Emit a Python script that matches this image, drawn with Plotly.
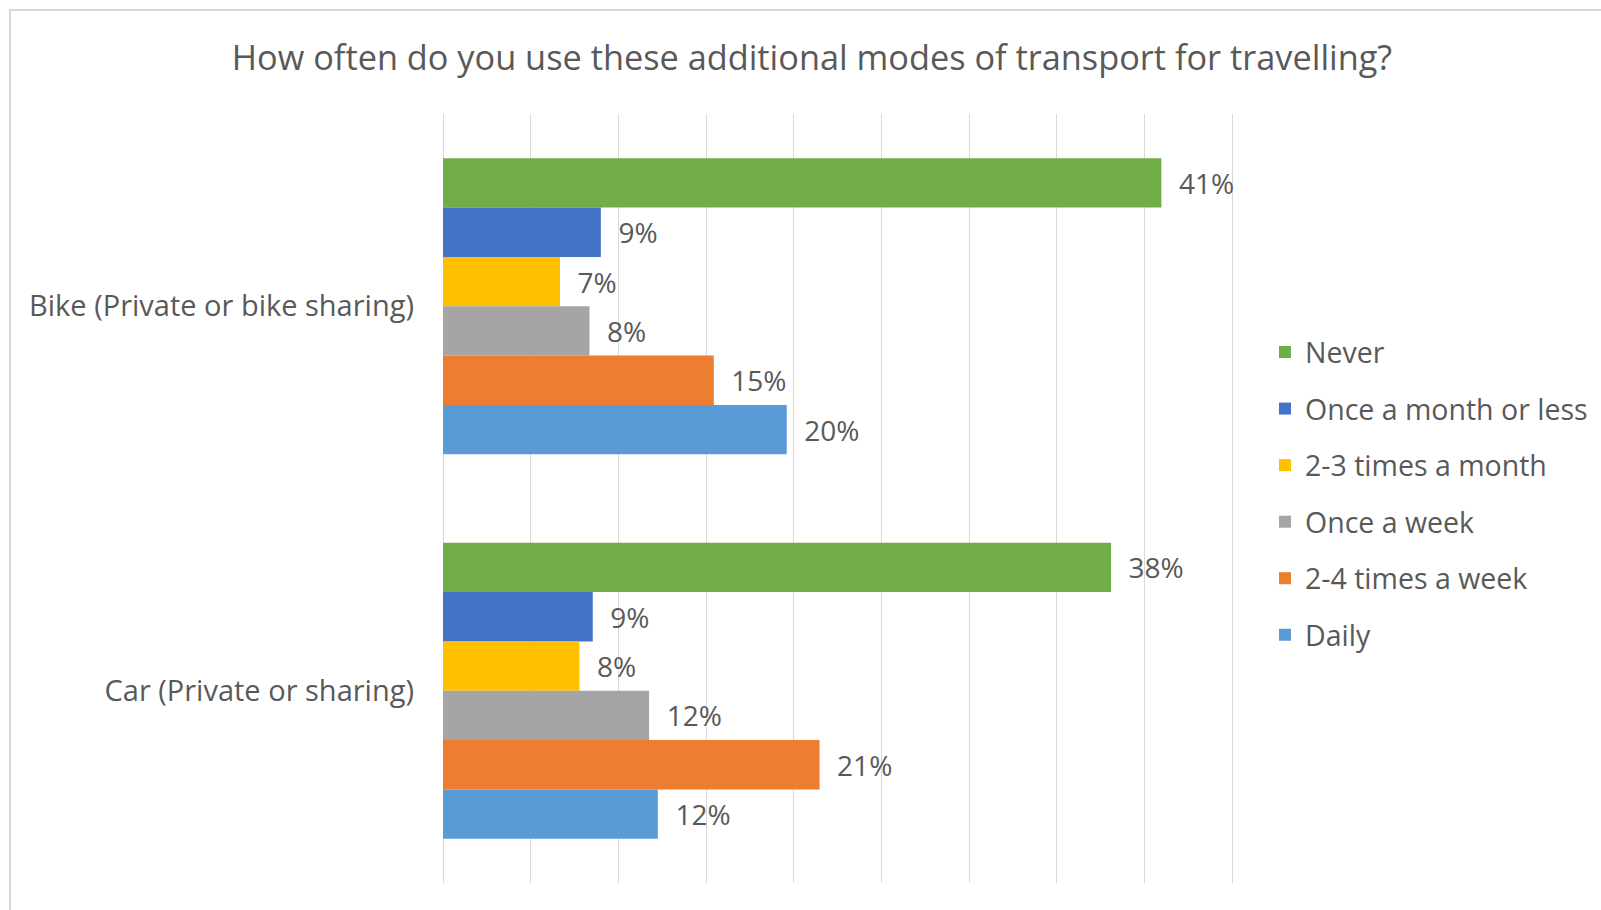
import plotly.graph_objects as go

categories = ["Bike (Private or bike sharing)", "Car (Private or sharing)"]
series_names = ["Never", "Once a month or less", "2-3 times a month",
                "Once a week", "2-4 times a week", "Daily"]
# shares in percent (labels show rounded values)
never = [40.96, 38.09]
once_month = [9.0, 8.54]
two_three_month = [6.67, 7.78]
once_week = [8.35, 11.75]
two_four_week = [15.44, 21.47]
daily = [19.6, 12.25]
series_values = [never, once_month, two_three_month, once_week, two_four_week, daily]
colors = ["#70AD47", "#4472C4", "#FFC000", "#A5A5A5", "#ED7D31", "#5B9BD5"]

FONT = "Open Sans"
TXT = "#595959"

fig = go.Figure()
for name, vals, col in zip(series_names, series_values, colors):
    fig.add_trace(go.Bar(
        y=categories, x=vals, name=name, orientation="h",
        marker=dict(color=col, line=dict(width=0)),
        text=[f"\u00a0\u00a0{round(v)}%" for v in vals], textposition="outside",
        textfont=dict(family=FONT, size=28, color=TXT),
        cliponaxis=False, legendgroup=name,
    ))

W, H = 1601, 910
L, R, T, B = 443, 1234, 114, 883
fig.update_layout(
    width=W, height=H,
    margin=dict(l=L, r=W - R, t=T, b=H - B, autoexpand=False),
    paper_bgcolor="white", plot_bgcolor="white",
    barmode="group", bargap=0.23, bargroupgap=0,
    title=dict(text="How often do you use these additional modes of transport for travelling?",
               x=812 / W, xanchor="center", y=1 - 58 / H, yanchor="middle",
               font=dict(family=FONT, size=34.3, color=TXT)),
    xaxis=dict(range=[0, 45.1], dtick=5, showticklabels=False, showgrid=True,
               gridcolor="#D9D9D9", gridwidth=1, zeroline=True, zerolinecolor="#D9D9D9",
               zerolinewidth=1, showline=False, fixedrange=True),
    yaxis=dict(autorange="reversed", showgrid=False, ticks="", ticklabelstandoff=28,
               tickfont=dict(family=FONT, size=29, color=TXT), showline=False,
               fixedrange=True),
    legend=dict(x=(1265 - L) / (R - L), xanchor="left", y=1 - (327 - T) / (B - T),
                yanchor="top", traceorder="grouped", tracegroupgap=16.5,
                font=dict(family=FONT, size=28.5, color=TXT), itemwidth=30,
                bgcolor="rgba(0,0,0,0)"),
    showlegend=True,
    shapes=[dict(type="rect", xref="paper", yref="paper",
                 x0=(10 - L) / (R - L), x1=(1620 - L) / (R - L),
                 y0=1 + (T - 10) / (B - T), y1=-(H + 20 - B) / (B - T),
                 line=dict(color="#D9D9D9", width=2), fillcolor="rgba(0,0,0,0)", layer="below")],
)

fig.write_html("out.html", config={"displayModeBar": False},
               post_script="document.body.style.margin='0';")
